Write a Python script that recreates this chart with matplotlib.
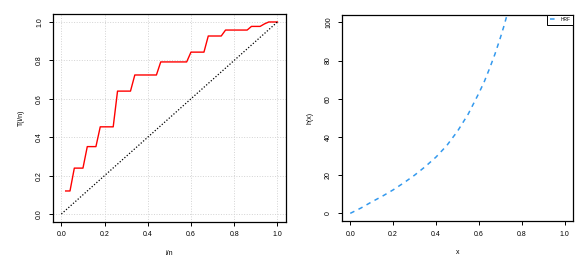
import matplotlib
matplotlib.use("Agg")
import matplotlib.pyplot as plt
import numpy as np

plt.rcParams['font.family'] = ['Liberation Sans', 'DejaVu Sans']

# TTT plot data (i/n, T(i/n)), n = 50
ttt_i = np.arange(1, 51)
ttt_T = [0.120, 0.120, 0.239, 0.239, 0.239, 0.351, 0.351, 0.351, 0.454, 0.454,
         0.454, 0.454, 0.640, 0.640, 0.640, 0.640, 0.724, 0.724, 0.724, 0.724,
         0.724, 0.724, 0.792, 0.792, 0.792, 0.792, 0.792, 0.792, 0.792, 0.843,
         0.843, 0.843, 0.843, 0.927, 0.927, 0.927, 0.927, 0.958, 0.958, 0.958,
         0.958, 0.958, 0.958, 0.977, 0.977, 0.977, 0.990, 1.000, 1.000, 1.000]

# hazard rate function
hrf_x = [0.0, 0.05, 0.1, 0.15, 0.2, 0.25, 0.3, 0.35, 0.4, 0.45, 0.5,
         0.55, 0.6, 0.625, 0.65, 0.675, 0.7, 0.715, 0.73, 0.74]
hrf_y = [0.0, 2.8, 6.0, 9.0, 12.3, 16.0, 20.0, 24.5, 29.5, 35.5, 43.0,
         52.0, 63.0, 69.0, 76.0, 83.5, 92.0, 97.5, 103.5, 108.0]

ticks01 = [0.0, 0.2, 0.4, 0.6, 0.8, 1.0]
fs = 5

fig = plt.figure(figsize=(5.87, 2.61), dpi=100)

def style_axes(ax):
    for s in ax.spines.values():
        s.set_linewidth(0.9)
        s.set_color('black')
    ax.tick_params(length=3, width=0.7, pad=4, labelsize=fs)
    for lab in ax.get_yticklabels():
        lab.set_rotation(90)
        lab.set_va('center')

# left panel
ax1 = fig.add_axes([0.0898, 0.1506, 0.3975, 0.7946])
n = len(ttt_T)
ax1.plot(ttt_i / n, ttt_T, color='red', lw=1.0)
ax1.plot([0, 1], [0, 1], color='black', lw=0.9, linestyle=(0, (1, 1.5)))
ax1.set_xlim(-0.04, 1.04)
ax1.set_ylim(-0.04, 1.04)
ax1.set_xticks(ticks01)
ax1.set_yticks(ticks01)
ax1.set_xticklabels(['%.1f' % t for t in ticks01])
ax1.set_yticklabels(['%.1f' % t for t in ticks01])
ax1.grid(True, color='#d3d3d3', linestyle=':', lw=0.7)
ax1.set_axisbelow(True)
ax1.set_xlabel('i/n', fontsize=fs, labelpad=8)
ax1.set_ylabel('T(i/n)', fontsize=fs, labelpad=8)
style_axes(ax1)

# right panel
ax2 = fig.add_axes([0.5821, 0.1533, 0.3946, 0.7904])
ax2.plot(hrf_x, hrf_y, color='#3399ee', lw=1.1, linestyle=(0, (3, 3)), label='HRF')
ax2.set_xlim(-0.04, 1.04)
ax2.set_ylim(-4, 104)
ax2.set_xticks(ticks01)
ax2.set_xticklabels(['%.1f' % t for t in ticks01])
ax2.set_yticks([0, 20, 40, 60, 80, 100])
ax2.set_xlabel('x', fontsize=fs, labelpad=8)
ax2.set_ylabel('h(x)', fontsize=fs, labelpad=8)
style_axes(ax2)
leg = ax2.legend(loc='upper right', fontsize=3.5, borderaxespad=0, fancybox=False,
                 framealpha=1, edgecolor='black', handlelength=1.5, borderpad=0.5)
leg.get_frame().set_linewidth(0.7)

fig.savefig('out.png', dpi=100)
